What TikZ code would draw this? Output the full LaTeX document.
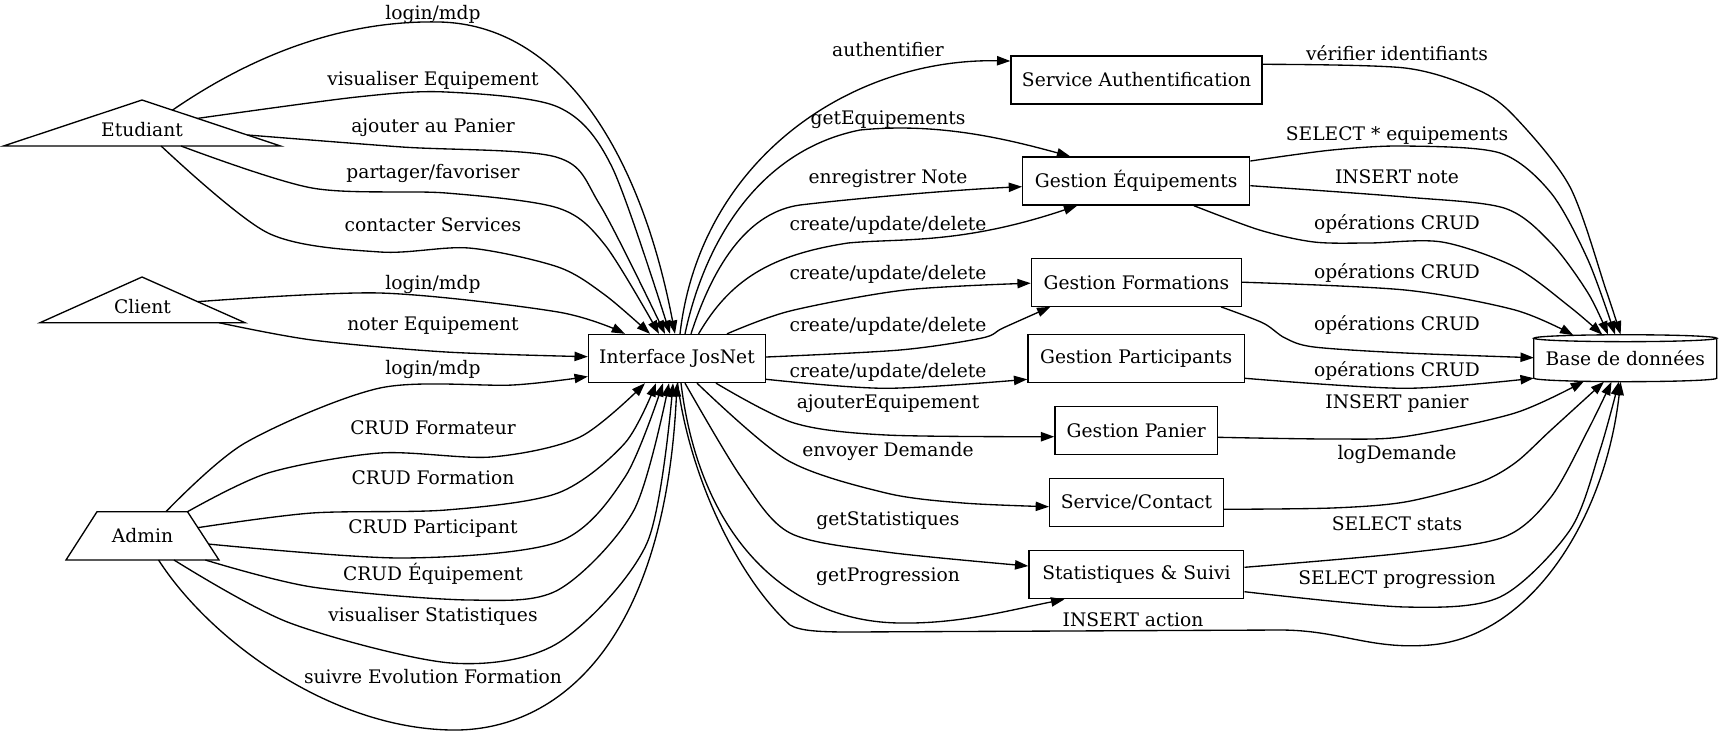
\documentclass[tikz,border=0pt]{standalone}
\usepackage{fontspec}
\setmainfont{DejaVu Serif}
\usetikzlibrary{arrows.meta,calc}
\begin{document}
\begin{tikzpicture}[x=0.75pt,y=-0.75pt,
  every node/.style={font=\fontsize{14pt}{16pt}\selectfont, inner sep=0pt},
  box/.style={draw, line width=1pt, minimum height=36pt},
  lbl/.style={},
  edge/.style={line width=1pt, -{Triangle[length=10pt,width=7pt]}},
  shp/.style={line width=1pt, line join=miter}
]
\useasboundingbox (0,0) rectangle (1722,736);

% ---------- actor nodes ----------
\node (etu) at (142,130) {Etudiant};
\coordinate (etuA) at ($(etu)+(0,-30)$);
\coordinate (etuR) at ($(etu)+(138.5,16)$);
\coordinate (etuL) at ($(etu)+(-138.5,16)$);
\draw[shp] (etuA) -- (etuR) -- (etuL) -- cycle;

\node (cli) at (142.5,307) {Client};
\coordinate (cliA) at ($(cli)+(-0.5,-30)$);
\coordinate (cliR) at ($(cli)+(102.5,15.7)$);
\coordinate (cliL) at ($(cli)+(-102.5,15.7)$);
\draw[shp] (cliA) -- (cliR) -- (cliL) -- cycle;

\node (adm) at (142.5,536) {Admin};
\coordinate (admTL) at ($(adm)+(-45.5,-24.3)$);
\coordinate (admTR) at ($(adm)+(45,-24.3)$);
\coordinate (admBR) at ($(adm)+(76.5,24)$);
\coordinate (admBL) at ($(adm)+(-76.5,24)$);
\draw[shp] (admTL) -- (admTR) -- (admBR) -- (admBL) -- cycle;

% ---------- boxes ----------
\node[box, minimum width=132.75pt] (ij) at (677,358.5) {Interface JosNet};
\node[box, minimum width=188.25pt] (sa) at (1136.5,80) {Service Authentification};
\node[box, minimum width=170.25pt] (ge) at (1136.2,181) {Gestion Équipements};
\node[box, minimum width=157.5pt] (gf) at (1136.4,282.2) {Gestion Formations};
\node[box, minimum width=162.4pt] (gp) at (1136.2,358.5) {Gestion Participants};
\node[box, minimum width=121.9pt] (gpa) at (1136.2,430.5) {Gestion Panier};
\node[box, minimum width=130.3pt] (gsc) at (1136.5,502.3) {Service/Contact};
\node[box, minimum width=161.1pt] (gst) at (1136.4,574.7) {Statistiques \& Suivi};

% ---------- database cylinder ----------
\node (db) at (1625.3,358.2) {Base de données};
\coordinate (dbTL) at ($(db)+(-91.5,-20)$);
\coordinate (dbTR) at ($(db)+(91.5,-20)$);
\coordinate (dbTC) at ($(db)+(0,-20)$);
\draw[shp] (dbTR) -- ($(db)+(91.5,20)$) arc[start angle=0,end angle=-180,x radius=68.625pt,y radius=2.6pt] -- (dbTL);
\draw[shp] (dbTC) ellipse[x radius=68.625pt,y radius=2.6pt];

% ---------- edge end points ----------
\coordinate (e1s) at ($(etuA)!0.22!(etuR)$);
\coordinate (e2s) at ($(etuA)!0.40!(etuR)$);
\coordinate (e3s) at ($(etuA)!0.76!(etuR)$);
\coordinate (e4s) at ($(etuL)!0.641!(etuR)$);
\coordinate (e5s) at ($(etuL)!0.569!(etuR)$);
\coordinate (e6s) at ($(cliA)!0.54!(cliR)$);
\coordinate (e7s) at ($(cliL)!0.873!(cliR)$);
\coordinate (e8s) at ($(admTL)!0.762!(admTR)$);
\coordinate (e10s) at ($(admTR)!0.33!(admBR)$);
\coordinate (e11s) at ($(admTR)!0.67!(admBR)$);
\coordinate (e12s) at ($(admBL)!0.911!(admBR)$);
\coordinate (e13s) at ($(admBL)!0.706!(admBR)$);
\coordinate (e14s) at ($(admBL)!0.605!(admBR)$);

\coordinate (e1t) at ($(ij.north)+(-2,0)$);
\coordinate (e2t) at ($(ij.north)+(-7,0)$);
\coordinate (e3t) at ($(ij.north)+(-12,0)$);
\coordinate (e4t) at ($(ij.north)+(-18,0)$);
\coordinate (e5t) at ($(ij.north)+(-27,0)$);
\coordinate (e6t) at ($(ij.north)+(-52,0)$);
\coordinate (e7t) at ($(ij.west)+(0,-1.8)$);
\coordinate (e8t) at ($(ij.west)+(0,18)$);
\coordinate (e9t) at ($(ij.south)+(-32,0)$);
\coordinate (e10t) at ($(ij.south)+(-21,0)$);
\coordinate (e11t) at ($(ij.south)+(-14,0)$);
\coordinate (e12t) at ($(ij.south)+(-8,0)$);
\coordinate (e13t) at ($(ij.south)+(-4,0)$);
\coordinate (e14t) at ($(ij.south)+(0,0)$);

\coordinate (m1s) at ($(ij.north)+(3,0)$);
\coordinate (m2s) at ($(ij.north)+(8,0)$);
\coordinate (m3s) at ($(ij.north)+(14,0)$);
\coordinate (m4s) at ($(ij.north)+(21.6,0)$);
\coordinate (m5s) at ($(ij.north)+(50,0)$);
\coordinate (m6s) at ($(ij.east)+(0,-1.5)$);
\coordinate (m7s) at ($(ij.east)+(0,20.8)$);
\coordinate (m8s) at ($(ij.south)+(39,0)$);
\coordinate (m9s) at ($(ij.south)+(20,0)$);
\coordinate (m10s) at ($(ij.south)+(8,0)$);
\coordinate (m11s) at ($(ij.south)+(4,0)$);
\coordinate (m12s) at ($(ij.south)+(0.6,0)$);

\coordinate (m1t) at ($(sa.west)+(0,-19)$);
\coordinate (m2t) at ($(ge.north)+(-66,0)$);
\coordinate (m3t) at ($(ge.west)+(0,5.7)$);
\coordinate (m4t) at ($(ge.south)+(-59,0)$);
\coordinate (m5t) at ($(gf.west)+(0,1)$);
\coordinate (m6t) at ($(gf.south)+(-86,0)$);
\coordinate (m7t) at ($(gp.west)+(0,20.8)$);
\coordinate (m8t) at ($(gpa.west)+(0,6.2)$);
\coordinate (m9t) at ($(gsc.west)+(0,4.4)$);
\coordinate (m10t) at ($(gst.west)+(0,-8.7)$);
\coordinate (m11t) at ($(gst.south)+(-72,0)$);
\coordinate (m12t) at ($(db)+(-4.7,23.6)$);

\coordinate (r1s) at ($(sa.east)+(0,-15.7)$);
\coordinate (r2s) at ($(ge.east)+(0,-20)$);
\coordinate (r3s) at ($(ge.east)+(0,4.7)$);
\coordinate (r4s) at ($(ge.south)+(57.6,0)$);
\coordinate (r5s) at ($(gf.east)+(0,0)$);
\coordinate (r6s) at ($(gf.south)+(84.6,0)$);
\coordinate (r7s) at ($(gp.east)+(0,19.8)$);
\coordinate (r8s) at ($(gpa.east)+(0,6.8)$);
\coordinate (r9s) at ($(gsc.east)+(0,7)$);
\coordinate (r10s) at ($(gst.east)+(0,-7.4)$);
\coordinate (r11s) at ($(gst.east)+(0,17)$);

\coordinate (r1t) at ($(db)+(-4.7,-23.7)$);
\coordinate (r2t) at ($(db)+(-10.3,-23.7)$);
\coordinate (r3t) at ($(db)+(-17.3,-23.6)$);
\coordinate (r4t) at ($(db)+(-23,-23.5)$);
\coordinate (r5t) at ($(db)+(-52,-23)$);
\coordinate (r6t) at ($(db)+(-91.5,-0.5)$);
\coordinate (r7t) at ($(db)+(-91.5,20)$);
\coordinate (r8t) at ($(db)+(-41.3,23)$);
\coordinate (r9t) at ($(db)+(-21.3,23.5)$);
\coordinate (r10t) at ($(db)+(-13.8,23.6)$);
\coordinate (r11t) at ($(db)+(-6.5,23.6)$);

% ---------- edges: actors -> interface ----------
\draw[edge] (e1s) .. controls (260,50) and (350,20) .. (440,22) .. controls (560,25) and (640,150) .. (e1t);
\draw[edge] plot[smooth] coordinates {(e2s) (357,97) (446,92) (558,107) (612,167) (e2t)};
\draw[edge] plot[smooth] coordinates {(e3s) (402,147) (556,157) (600,205) (e3t)};
\draw[edge] plot[smooth] coordinates {(e4s) (312,188) (446,193) (558,208) (605,245) (e4t)};
\draw[edge] plot[smooth] coordinates {(e5s) (268,233) (380,252) (469,248) (558,267) (605,295) (e5t)};
\draw[edge] plot[smooth] coordinates {(e6s) (380,293) (558,312) (e6t)};
\draw[edge] plot[smooth] coordinates {(e7s) (312,340) (446,352) (e7t)};
\draw[edge] plot[smooth] coordinates {(e8s) (245,443) (380,388) (513,385) (e8t)};
\draw[edge] plot[smooth] coordinates {(admTR) (268,473) (380,453) (491,457) (580,437) (e9t)};
\draw[edge] plot[smooth] coordinates {(e10s) (312,513) (446,510) (558,493) (625,443) (e10t)};
\draw[edge] plot[smooth] coordinates {(e11s) (402,558) (558,542) (625,477) (e11t)};
\draw[edge] plot[smooth] coordinates {(e12s) (312,587) (469,600) (558,590) (634,510) (e12t)};
\draw[edge] plot[smooth] coordinates {(e13s) (290,623) (451,663) (558,643) (647,543) (e13t)};
\draw[edge] (e14s) .. controls (210,640) and (330,728) .. (451,730) .. controls (560,732) and (665,640) .. (e14t);

% ---------- edges: interface -> services ----------
\draw[edge] (m1s) .. controls (700,160) and (850,58) .. (m1t);
\draw[edge] (m2s) .. controls (705,240) and (760,150) .. (860,130) .. controls (940,122) and (1010,140) .. (m2t);
\draw[edge] (m3s) .. controls (715,260) and (750,212) .. (800,205) .. controls (850,199) and (950,190) .. (m3t);
\draw[edge] (m4s) .. controls (730,280) and (770,255) .. (848,243) .. controls (900,238) and (960,245) .. (m4t);
\draw[edge] plot[smooth] coordinates {(m5s) (790,311) (905,290) (m5t)};
\draw[edge] plot[smooth] coordinates {(m6s) (900,350) (982,338) (1003,328) (m6t)};
\draw[edge] plot[smooth] coordinates {(m7s) (886,388.3) (m7t)};
\draw[edge] plot[smooth] coordinates {(m8s) (794,423) (886,435) (m8t)};
\draw[edge] plot[smooth] coordinates {(m9s) (787,460) (886,493) (963,503) (m9t)};
\draw[edge] plot[smooth] coordinates {(m10s) (741,477) (790,533) (886,552) (m10t)};
\draw[edge] (m11s) .. controls (700,540) and (790,622) .. (900,623) .. controls (960,624) and (1010,610) .. (m11t);
\draw[edge] (m12s) .. controls (690,480) and (740,580) .. (790,625) .. controls (800,631) and (820,632) .. (850,632) -- (1280,630) .. controls (1340,630) and (1370,650) .. (1430,645) .. controls (1530,637) and (1605,520) .. (m12t);

% ---------- edges: services -> database ----------
\draw[edge] plot[smooth] coordinates {(r1s) (1405,68) (1478,90) (1515,117) (1570,187) (1606,290) (r1t)};
\draw[edge] plot[smooth] coordinates {(r2s) (1332,150) (1405,146) (1500,153) (1551,193) (1588,260) (r2t)};
\draw[edge] plot[smooth] coordinates {(r3s) (1405,197) (1504,208) (1551,243) (1588,293) (r3t)};
\draw[edge] plot[smooth] coordinates {(r4s) (1259.5,230) (1314,242) (1369,243) (1442,242) (1515,267) (1570,307) (r4t)};
\draw[edge] plot[smooth] coordinates {(r5s) (1405,290) (1515,310) (r5t)};
\draw[edge] plot[smooth] coordinates {(r6s) (1263,323) (1285,338) (1314,347) (1405,353) (r6t)};
\draw[edge] plot[smooth] coordinates {(r7s) (1405,388.3) (r7t)};
\draw[edge] plot[smooth] coordinates {(r8s) (1332,439) (1405,436.5) (1515,413) (r8t)};
\draw[edge] plot[smooth] coordinates {(r9s) (1332,508) (1405,502) (1478,483) (1515,463) (1551,430) (r9t)};
\draw[edge] plot[smooth] coordinates {(r10s) (1405,553) (1504,537) (1551,497) (1588,430) (r10t)};
\draw[edge] plot[smooth] coordinates {(r11s) (1405,607) (1500,597) (1570,530) (1600,450) (r11t)};

% ---------- labels ----------
\node[lbl] (la1) at (433,14) {login/mdp};
\node[lbl] (la2) at (433,80.7) {visualiser Equipement};
\node[lbl] (la3) at (433,127.7) {ajouter au Panier};
\node[lbl] (la4) at (433,173.3) {partager/favoriser};
\node[lbl] (la5) at (433,225) {contacter Services};
\node[lbl] (la6) at (433,284) {login/mdp};
\node[lbl] (la7) at (433,325.7) {noter Equipement};
\node[lbl] (la8) at (433,369.5) {login/mdp};
\node[lbl] (la9) at (433,427.7) {CRUD Formateur};
\node[lbl] (la10) at (433,477.7) {CRUD Formation};
\node[lbl] (la11) at (433,528.3) {CRUD Participant};
\node[lbl] (la12) at (433,573.3) {CRUD Équipement};
\node[lbl] (la13) at (433,616) {visualiser Statistiques};
\node[lbl] (la14) at (433,676.7) {suivre Evolution Formation};

\node[lbl] (lm1) at (888,50) {authentifier};
\node[lbl] (lm2) at (888,120) {getEquipements};
\node[lbl] (lm3) at (888,178.3) {enregistrer Note};
\node[lbl] (lm4) at (888,225) {create/update/delete};
\node[lbl] (lm5) at (888,274) {create/update/delete};
\node[lbl] (lm6) at (888,326) {create/update/delete};
\node[lbl] (lm7) at (888,372.3) {create/update/delete};
\node[lbl] (lm8) at (888,404) {ajouterEquipement};
\node[lbl] (lm9) at (888,451.7) {envoyer Demande};
\node[lbl] (lm10) at (888,521) {getStatistiques};
\node[lbl] (lm11) at (888,576.7) {getProgression};
\node[lbl] (lm12) at (1133,620) {INSERT action};

\node[lbl] (lr1) at (1397,53.3) {vérifier identifiants};
\node[lbl] (lr2) at (1397,135.7) {SELECT * equipements};
\node[lbl] (lr3) at (1397,176.7) {INSERT note};
\node[lbl] (lr4) at (1397,224) {opérations CRUD};
\node[lbl] (lr5) at (1397,273.3) {opérations CRUD};
\node[lbl] (lr6) at (1397,325) {opérations CRUD};
\node[lbl] (lr7) at (1397,370.7) {opérations CRUD};
\node[lbl] (lr8) at (1397,404) {INSERT panier};
\node[lbl] (lr9) at (1397,454) {logDemande};
\node[lbl] (lr10) at (1397,523.3) {SELECT stats};
\node[lbl] (lr11) at (1397,579.3) {SELECT progression};
\end{tikzpicture}
\end{document}
